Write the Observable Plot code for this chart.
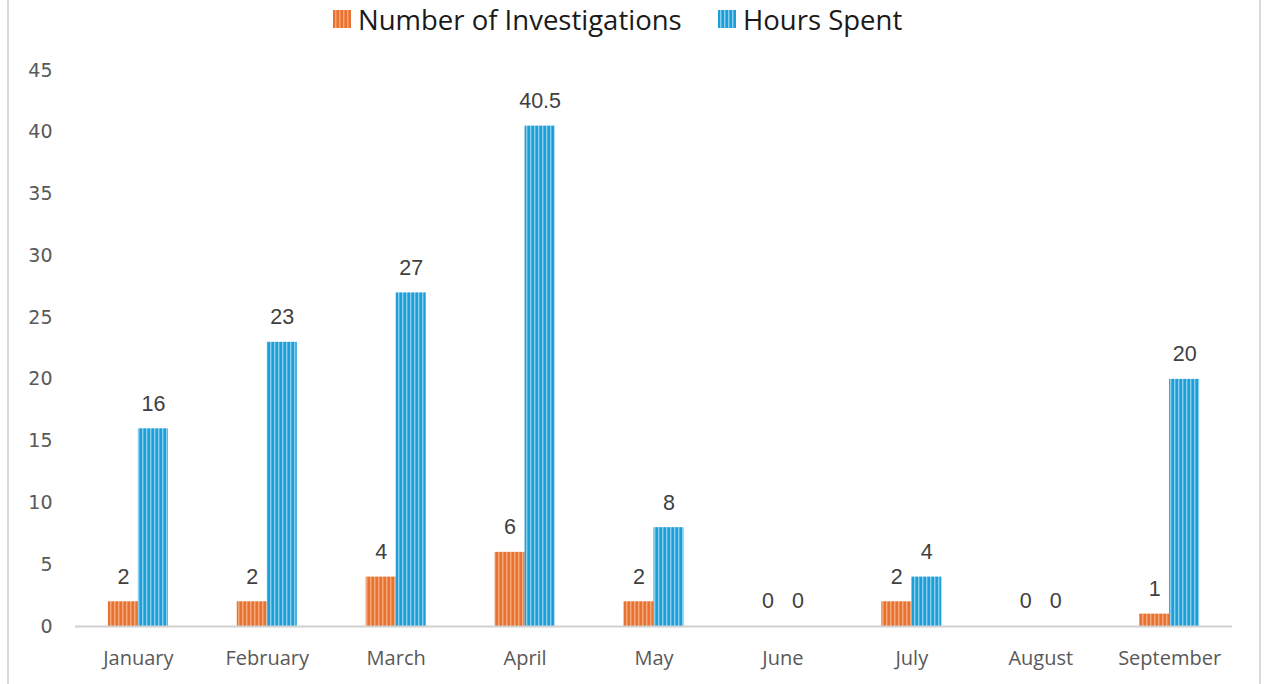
<!DOCTYPE html>
<html>
<head>
<meta charset="utf-8">
<script src="https://cdn.jsdelivr.net/npm/d3@7"></script>
<script src="https://cdn.jsdelivr.net/npm/@observablehq/plot@0.6"></script>
<style>
  html, body { margin: 0; padding: 0; background: #fff; }
  #wrap { position: relative; width: 1268px; height: 684px; overflow: hidden; }
  .border { position: absolute; top: 0; width: 2px; height: 684px; background: #d9d9d9; }
  #legend { position: relative; height: 40px; font-family: "Open Sans", sans-serif; font-size: 27.5px; color: #1a1a1a; }
  .item { position: absolute; top: 0; height: 38px; display: flex; align-items: center; }
  .sw { width: 18px; height: 18px; margin-right: 7px; }
  .sw svg { display: block; }
</style>
</head>
<body>
<svg width="0" height="0" style="position:absolute">
  <defs>
    <pattern id="pOrange" patternUnits="userSpaceOnUse" width="4" height="10">
      <rect width="4" height="10" fill="#E97132"/>
      <rect x="2" width="1" height="10" fill="#F6A877"/>
      <rect x="3" width="1" height="10" fill="#F08A50"/>
    </pattern>
    <pattern id="pBlue" patternUnits="userSpaceOnUse" width="4" height="10">
      <rect width="4" height="10" fill="#1E9DD9"/>
      <rect x="2" width="1" height="10" fill="#86D0F0"/>
      <rect x="3" width="1" height="10" fill="#45B3E6"/>
    </pattern>
  </defs>
</svg>
<div id="wrap">
  <div class="border" style="left:7px"></div>
  <div class="border" style="left:1259px"></div>
  <div id="legend"></div>
  <div id="chart"></div>
</div>
<script>
const months = ["January","February","March","April","May","June","July","August","September"];
const investigations = [2, 2, 4, 6, 2, 0, 2, 0, 1];
const hours = [16, 23, 27, 40.5, 8, 0, 4, 0, 20];
const seriesNames = ["Number of Investigations", "Hours Spent"];
const seriesFills = ["url(#pOrange)", "url(#pBlue)"];
const yTicks = [0, 5, 10, 15, 20, 25, 30, 35, 40, 45];

const invRows = months.map((m, i) => ({month: m, series: seriesNames[0], value: investigations[i]}));
const hourRows = months.map((m, i) => ({month: m, series: seriesNames[1], value: hours[i]}));

// legend
const legend = document.getElementById("legend");
const legendX = [333, 718];
seriesNames.forEach((s, i) => {
  const it = document.createElement("div");
  it.className = "item";
  it.style.left = legendX[i] + "px";
  const sw = document.createElement("div");
  sw.className = "sw";
  sw.innerHTML = `<svg width="18" height="18"><rect width="18" height="18" fill="${seriesFills[i]}"/></svg>`;
  it.appendChild(sw);
  const t = document.createElement("span");
  t.textContent = s;
  it.appendChild(t);
  legend.appendChild(it);
});

const W = 1268, H = 644;
const band = 60;
const chart = Plot.plot({
  width: W,
  height: H,
  marginTop: 30,
  marginBottom: 58,
  marginLeft: 75,
  marginRight: 36,
  style: {fontFamily: "Liberation Sans, Arial, sans-serif", background: "transparent"},
  x: {domain: months, paddingInner: 0.5345, paddingOuter: 0.255, round: false, label: null},
  y: {domain: [0, 45], label: null},
  color: {domain: seriesNames, range: seriesFills},
  marks: [
    Plot.axisY({ticks: yTicks, tickSize: 0, tickPadding: 23, fontSize: 19, fill: "#595959", label: null, fontFamily: "DejaVu Sans, sans-serif"}),
    Plot.axisX({tickSize: 0, tickPadding: 24, fontSize: 20, fill: "#595959", label: null, fontFamily: "Open Sans, sans-serif"}),
    Plot.barY(invRows, {x: "month", y: "value", fill: "series", insetRight: band / 2}),
    Plot.barY(hourRows, {x: "month", y: "value", fill: "series", insetLeft: band / 2}),
    Plot.ruleY([0], {stroke: "#d0d0d0", strokeWidth: 2}),
    Plot.text(invRows, {x: "month", y: "value", text: d => String(d.value), dx: -band / 4, dy: -25, fontSize: 21.5, fill: "#404040"}),
    Plot.text(hourRows, {x: "month", y: "value", text: d => String(d.value), dx: band / 4, dy: -25, fontSize: 21.5, fill: "#404040"})
  ]
});
document.getElementById("chart").appendChild(chart);
</script>
</body>
</html>
